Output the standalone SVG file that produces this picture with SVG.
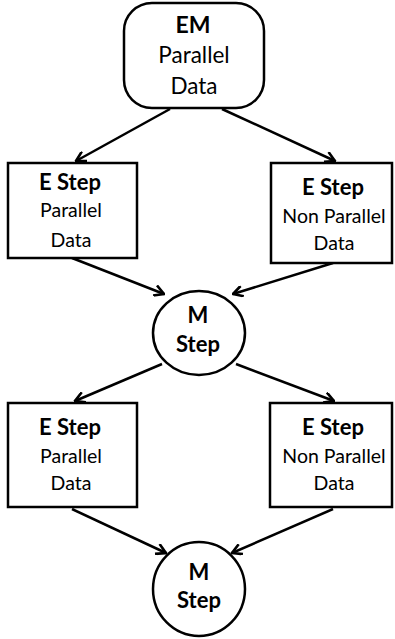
<svg xmlns="http://www.w3.org/2000/svg" width="395" height="639" viewBox="0 0 395 639">
<defs>
<style>
.node{fill:#fff;stroke:#000;stroke-width:2.5}
.t{font-family:Lato,"Open Sans","Liberation Sans",sans-serif;text-anchor:middle;fill:#000}
.b{font-weight:bold}
.h{font-size:22px;font-weight:bold}
.s{font-size:19.5px}
.edge{stroke:#000;stroke-width:2.5;fill:none;marker-end:url(#arr)}
</style>
<marker id="arr" markerWidth="12" markerHeight="12" refX="9" refY="5" orient="auto" markerUnits="userSpaceOnUse" viewBox="0 0 10 10">
<path d="M1,0.5 L9,5 L1,9.5" fill="none" stroke="#000" stroke-width="2.2"/>
</marker>
</defs>
<g id="connectors">
<line class="edge" x1="170" y1="109" x2="76" y2="161"/>
<line class="edge" x1="222" y1="109" x2="335" y2="161"/>
<line class="edge" x1="72" y1="258" x2="164" y2="294"/>
<line class="edge" x1="333" y1="263" x2="233" y2="294"/>
<line class="edge" x1="162" y1="364" x2="75" y2="401"/>
<line class="edge" x1="236" y1="364" x2="334" y2="401"/>
<line class="edge" x1="72" y1="509" x2="166" y2="553"/>
<line class="edge" x1="333" y1="509" x2="232" y2="553"/>
</g>
<g id="em">
<rect class="node" x="124" y="3" width="140" height="105" rx="28"/>
<text class="t b" x="193" y="33" font-size="23">EM</text>
<text class="t" x="194" y="63" font-size="22.5">Parallel</text>
<text class="t" x="194" y="94" font-size="22.5">Data</text>
</g>
<g id="e1">
<rect class="node" x="8" y="163" width="129" height="95"/>
<text class="t h" x="70" y="190">E Step</text>
<text class="t s" x="71" y="217">Parallel</text>
<text class="t s" x="71" y="247">Data</text>
</g>
<g id="e2">
<rect class="node" x="271" y="163" width="121" height="100"/>
<text class="t h" x="333" y="195">E Step</text>
<text class="t s" x="334" y="223">Non Parallel</text>
<text class="t s" x="334" y="250">Data</text>
</g>
<g id="m1">
<ellipse class="node" cx="199" cy="333" rx="46" ry="42"/>
<text class="t h" x="198" y="323">M</text>
<text class="t h" x="198" y="352">Step</text>
</g>
<g id="e3">
<rect class="node" x="8" y="403" width="129" height="104"/>
<text class="t h" x="70" y="435">E Step</text>
<text class="t s" x="71" y="463">Parallel</text>
<text class="t s" x="71" y="490">Data</text>
</g>
<g id="e4">
<rect class="node" x="270" y="403" width="122" height="104"/>
<text class="t h" x="333" y="435">E Step</text>
<text class="t s" x="334" y="463">Non Parallel</text>
<text class="t s" x="334" y="490">Data</text>
</g>
<g id="m2">
<ellipse class="node" cx="199" cy="589" rx="46" ry="47"/>
<text class="t h" x="199" y="580">M</text>
<text class="t h" x="199" y="608">Step</text>
</g>
</svg>
